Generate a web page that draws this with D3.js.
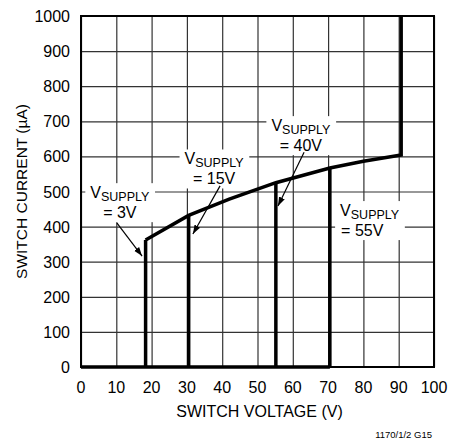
<!DOCTYPE html>
<html>
<head>
<meta charset="utf-8">
<script src="https://cdn.jsdelivr.net/npm/d3@7"></script>
<style>
  body { margin: 0; background: #fff; }
  text { font-family: "Liberation Sans", Arial, sans-serif; fill: #000; }
</style>
</head>
<body>
<svg id="chart" width="451" height="440"></svg>
<script>
// envelope (upper current curve)
var envVolts = [18.3, 30.5, 42, 55.2, 70.5, 80, 90.7, 90.7];
var envCurrent = [362, 432, 478, 525, 567, 586, 604, 1000];

// each supply: breakdown voltage where the trace jumps up
var supplies = [3, 15, 40, 55];
var breakVolts = [18.3, 30.5, 55.2, 70.5];
var breakCurrent = [362, 432, 525, 567];

var xTicks = [0, 10, 20, 30, 40, 50, 60, 70, 80, 90, 100];
var yTicks = [0, 100, 200, 300, 400, 500, 600, 700, 800, 900, 1000];

// label anchors (data units) + arrow start/end (data units)
var labelX = [11.0, 37.7, 62.3, 73.4];
var labelY = [481, 577, 672, 430];
var labelAnchor = ["middle", "middle", "middle", "start"];
var arrowFrom = [[10.2, 410], [39.4, 516], [63.2, 612], null];
var arrowTo = [[17.3, 316], [31.7, 379], [55.8, 459], null];

var svg = d3.select("#chart"),
  margin = {top: 16, right: 17, bottom: 73, left: 81},
  width = +svg.attr("width") - margin.left - margin.right,
  height = +svg.attr("height") - margin.top - margin.bottom;

var x = d3.scaleLinear().domain([0, 100]).range([margin.left, margin.left + width]);
var y = d3.scaleLinear().domain([0, 1000]).range([margin.top + height, margin.top]);

svg.append("defs").append("marker")
  .attr("id", "head")
  .attr("viewBox", "0 0 10 10")
  .attr("refX", 10).attr("refY", 5)
  .attr("markerWidth", 9).attr("markerHeight", 9)
  .attr("markerUnits", "userSpaceOnUse")
  .attr("orient", "auto")
  .append("path").attr("d", "M0,1.5 L10,5 L0,8.5 Z").attr("fill", "#000");

// grid
svg.append("g")
  .attr("transform", "translate(0," + (margin.top + height) + ")")
  .call(d3.axisBottom(x).tickValues(xTicks).tickSize(-height).tickFormat(""))
  .call(g => g.select(".domain").remove())
  .selectAll("line").attr("stroke", "#333").attr("stroke-width", 1.2);

svg.append("g")
  .attr("transform", "translate(" + margin.left + ",0)")
  .call(d3.axisLeft(y).tickValues(yTicks).tickSize(-width).tickFormat(""))
  .call(g => g.select(".domain").remove())
  .selectAll("line").attr("stroke", "#333").attr("stroke-width", 1.2);

// tick labels
svg.append("g").selectAll("text")
  .data(xTicks).enter().append("text")
  .attr("x", d => x(d)).attr("y", margin.top + height + 26)
  .attr("text-anchor", "middle").style("font-size", "16px")
  .text(d => d);

svg.append("g").selectAll("text")
  .data(yTicks).enter().append("text")
  .attr("x", margin.left - 11).attr("y", d => y(d)).attr("dy", "0.38em")
  .attr("text-anchor", "end").style("font-size", "16px")
  .text(d => d);

svg.append("text")
  .attr("x", margin.left + width / 2 + 2).attr("y", margin.top + height + 50)
  .attr("text-anchor", "middle").style("font-size", "16px")
  .text("SWITCH VOLTAGE (V)");

svg.append("text")
  .attr("transform", "translate(27," + (margin.top + height / 2) + ") rotate(-90)")
  .attr("text-anchor", "middle").style("font-size", "15.5px")
  .text("SWITCH CURRENT (\u00b5A)");

svg.append("text")
  .attr("x", 432).attr("y", 438)
  .attr("text-anchor", "end").style("font-size", "9.5px")
  .text("1170/1/2 G15");

// labels with white backing boxes
var labels = svg.append("g");
supplies.forEach(function(s, i) {
  var g = labels.append("g");
  var bx = g.append("rect").attr("fill", "#fff");
  var t1 = g.append("text")
    .attr("x", x(labelX[i])).attr("y", y(labelY[i]))
    .attr("text-anchor", labelAnchor[i]).style("font-size", "16px");
  t1.append("tspan").text("V");
  t1.append("tspan").attr("dy", 2.5).style("font-size", "12.5px").text("SUPPLY");
  g.append("text")
    .attr("x", x(labelX[i]) + (labelAnchor[i] == "start" ? 1 : 0)).attr("y", y(labelY[i]) + 20)
    .attr("text-anchor", labelAnchor[i]).style("font-size", "16px")
    .text("= " + s + "V");
  var b = g.node().getBBox();
  bx.attr("x", b.x - 5).attr("y", b.y - 1).attr("width", b.width + 10).attr("height", b.height + 2);
});

// traces
var line = d3.line().x(d => x(d[0])).y(d => y(d[1]));

svg.append("path")
  .datum(envVolts.map((v, i) => [v, envCurrent[i]]))
  .attr("d", line).attr("fill", "none")
  .attr("stroke", "#000").attr("stroke-width", 3.5).attr("stroke-linejoin", "miter");

svg.append("path")
  .datum([[0, 0], [d3.max(breakVolts), 0]])
  .attr("d", line).attr("fill", "none")
  .attr("stroke", "#000").attr("stroke-width", 3.5);

svg.append("g").selectAll("path")
  .data(breakVolts).enter().append("path")
  .attr("d", (v, i) => line([[v, 0], [v, breakCurrent[i]]]))
  .attr("fill", "none").attr("stroke", "#000").attr("stroke-width", 3.5);

// frame
svg.append("rect")
  .attr("x", margin.left).attr("y", margin.top)
  .attr("width", width).attr("height", height)
  .attr("fill", "none").attr("stroke", "#000").attr("stroke-width", 2);

// arrows
svg.append("g").selectAll("line")
  .data(arrowFrom.map((a, i) => [a, arrowTo[i]]).filter(d => d[0]))
  .enter().append("line")
  .attr("x1", d => x(d[0][0])).attr("y1", d => y(d[0][1]))
  .attr("x2", d => x(d[1][0])).attr("y2", d => y(d[1][1]))
  .attr("stroke", "#000").attr("stroke-width", 1.2)
  .attr("marker-end", "url(#head)");
</script>
</body>
</html>
